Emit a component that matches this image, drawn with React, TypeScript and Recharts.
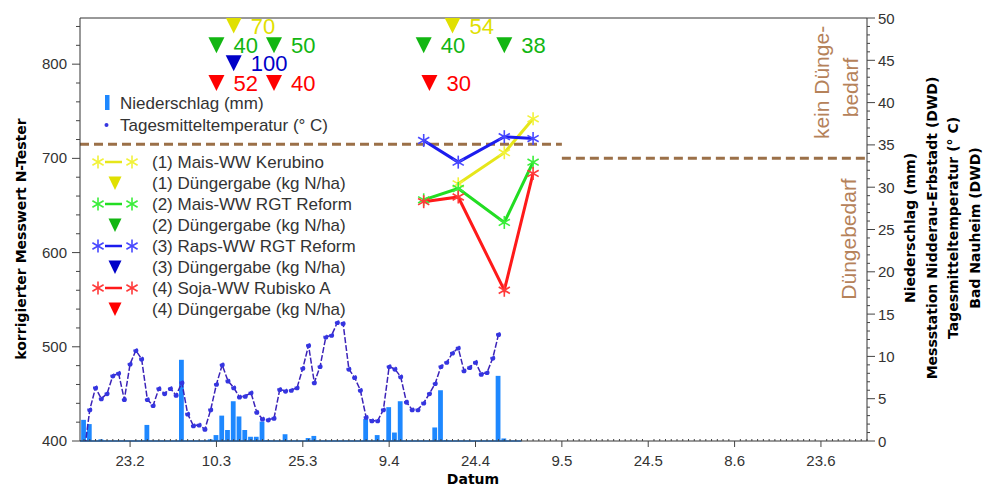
import React from "react"
import { ComposedChart, Bar, Line, Scatter, XAxis, YAxis, ReferenceLine } from "recharts"

// x axis = day of year (1 = 1.1.)
const X_MIN = 45.3
const X_MAX = 182
const X_TICK_DAYS = [54, 69, 84, 99, 114, 129, 144, 159, 174]
const X_TICK_LABELS = ["23.2", "10.3", "25.3", "9.4", "24.4", "9.5", "24.5", "8.6", "23.6"]

// daily weather, starting 15.2.
const WEATHER_FIRST_DAY = 46
const rainMm = [
  2.5, 2.0, 0, 0.2, 0, 0, 0, 0, 0, 0, 0, 1.9, 0, 0, 0, 0, 0, 9.6, 0, 0,
  0, 0, 0.2, 0.7, 3.0, 1.3, 4.7, 2.9, 1.3, 0.5, 0.5, 2.3, 0.1, 0, 0, 0.8, 0, 0, 0, 0.35,
  0.6, 0, 0, 0, 0, 0, 0, 0, 0, 2.6, 0, 0.7, 0, 4.0, 1.0, 4.7, 0, 0, 0, 0,
  0, 1.6, 6.0, 0.1, 0, 0, 0, 0, 0, 0, 0, 0, 7.7, 0.3, 0, 0,
]
const tempC = [
  -1.5, 3.7, 6.3, 5.0, 5.6, 7.7, 8.0, 4.9, 9.1, 10.7, 9.7, 4.9, 4.2, 6.2, 5.6, 6.2, 5.4, 6.9, 3.2, 1.8,
  1.9, 1.4, 3.7, 6.7, 9.0, 7.1, 6.3, 5.2, 5.3, 5.7, 3.4, 2.6, 2.5, 2.7, 6.1, 5.9, 6.0, 6.3, 8.6, 11.3,
  6.9, 8.8, 12.3, 12.5, 14.0, 13.9, 8.5, 7.5, 6.0, 2.8, 2.4, 2.4, 3.7, 8.8, 8.5, 7.6, 4.6, 3.7, 3.7, 4.5,
  5.6, 6.8, 8.8, 9.3, 10.4, 11.0, 8.3, 8.7, 9.3, 7.9, 8.1, 9.8, 12.6,
]

// N-Tester measurements
const NT_DAYS = [105, 111, 119, 124]
const ntKerubino = [null, 673, 706, 742]
const ntMaisReform = [656, 668, 632, 696]
const ntRapsReform = [719, 696, 723, 721]
const ntSojaRubisko = [654, 659, 560, 684]

// fertilizer applications (kg N/ha)
const dung1 = [{ day: 72, n: 70 }, { day: 110, n: 54 }]
const dung2 = [{ day: 69, n: 40 }, { day: 79, n: 50 }, { day: 105, n: 40 }, { day: 119, n: 38 }]
const dung3 = [{ day: 72, n: 100 }]
const dung4 = [{ day: 69, n: 52 }, { day: 79, n: 40 }, { day: 106, n: 30 }]

// threshold "Düngebedarf"
const thresholds = [
  { from: X_MIN, to: 129, value: 715 },
  { from: 129, to: X_MAX, value: 700 },
]

const SANS = "'Liberation Sans', Arial, sans-serif"
const BOLD = "'DejaVu Sans', Verdana, sans-serif"
const TXT = "#333"
const BROWN = "#9b7048"
const BROWN_TXT = "#b5825a"
const BAR = "#1e88ff"
const TEMP_LINE = "#3b22b8"
const TEMP_DOT = "#3535e0"

const C1 = { line: "#e6e61a", star: "#f2f23a", tri: "#e0e000" }
const C2 = { line: "#22dd22", star: "#3cee3c", tri: "#12b612" }
const C3 = { line: "#1c1cee", star: "#4848ff", tri: "#0000c8" }
const C4 = { line: "#ff1a1a", star: "#ff3a3a", tri: "#ff0000" }

const LEVELS = [841, 820, 801, 780]

const byDay = new Map<number, any>()
const rows: any[] = []
const row = (d: number) => {
  if (!byDay.has(d)) {
    const r = { day: d }
    byDay.set(d, r)
    rows.push(r)
  }
  return byDay.get(d)
}
rainMm.forEach((v, i) => { row(WEATHER_FIRST_DAY + i).rain = v })
tempC.forEach((v, i) => { row(WEATHER_FIRST_DAY + i).temp = v })
NT_DAYS.forEach((d, i) => {
  const r = row(d)
  r.s1 = ntKerubino[i]
  r.s2 = ntMaisReform[i]
  r.s3 = ntRapsReform[i]
  r.s4 = ntSojaRubisko[i]
})
rows.sort((a, b) => a.day - b.day)

const xTicks: number[] = []
for (let d = 46; d <= 182; d++) xTicks.push(d)
const leftTicks: number[] = []
for (let v = 400; v <= 840; v += 20) leftTicks.push(v)
const rightTicks: number[] = []
for (let v = 0; v <= 50; v++) rightTicks.push(v)

function Star({ x, y, color }: { x: number; y: number; color: string }) {
  return (
    <g stroke={color} strokeWidth={1.6}>
      <line x1={x} y1={y - 6.5} x2={x} y2={y + 6.5} />
      <line x1={x - 5.6} y1={y - 3.2} x2={x + 5.6} y2={y + 3.2} />
      <line x1={x - 5.6} y1={y + 3.2} x2={x + 5.6} y2={y - 3.2} />
    </g>
  )
}

const starDot = (color: string) => (p: any) => {
  if (p.cx == null || p.cy == null || p.value == null) return <g key={p.key} />
  return <Star key={p.key} x={p.cx} y={p.cy} color={color} />
}

const triShape = (color: string) => (p: any) => {
  const { cx, cy, payload } = p
  return (
    <g>
      <polygon points={`${cx - 8},${cy - 8} ${cx + 8},${cy - 8} ${cx},${cy + 8}`} fill={color} />
      <text x={cx + 17} y={cy + 8} fill={color} fontSize={22} fontFamily={SANS}>{payload.n}</text>
    </g>
  )
}

const XTick = (p: any) => {
  const { x, y, payload } = p
  const i = X_TICK_DAYS.indexOf(payload.value)
  if (i < 0) return <line x1={x} x2={x} y1={y} y2={y - 2} stroke="#444" />
  return (
    <g>
      <line x1={x} x2={x} y1={y} y2={y + 6} stroke="#444" />
      <text x={x} y={y + 25} textAnchor="middle" fill={TXT} fontSize={15} fontFamily={SANS}>{X_TICK_LABELS[i]}</text>
    </g>
  )
}

const LeftTick = (p: any) => {
  const { x, y, payload } = p
  const major = payload.value % 100 === 0
  return (
    <g>
      <line x1={x} x2={x - (major ? 8 : 4)} y1={y} y2={y} stroke="#444" />
      {major && <text x={x - 13} y={y + 5} textAnchor="end" fill={TXT} fontSize={15} fontFamily={SANS}>{payload.value}</text>}
    </g>
  )
}

const RightTick = (p: any) => {
  const { x, y, payload } = p
  const major = payload.value % 5 === 0
  return (
    <g>
      <line x1={x} x2={x + (major ? 8 : 3)} y1={y} y2={y} stroke="#444" />
      {major && <text x={x + 11} y={y + 5.5} fill={TXT} fontSize={15} fontFamily={SANS}>{payload.value}</text>}
    </g>
  )
}

const legendRows = [
  { label: "(1) Mais-WW Kerubino", c: C1, tri: false },
  { label: "(1) Düngergabe (kg N/ha)", c: C1, tri: true },
  { label: "(2) Mais-WW RGT Reform", c: C2, tri: false },
  { label: "(2) Düngergabe (kg N/ha)", c: C2, tri: true },
  { label: "(3) Raps-WW RGT Reform", c: C3, tri: false },
  { label: "(3) Düngergabe (kg N/ha)", c: C3, tri: true },
  { label: "(4) Soja-WW Rubisko A", c: C4, tri: false },
  { label: "(4) Düngergabe (kg N/ha)", c: C4, tri: true },
]

const rightTitles = [
  "Niederschlag (mm)",
  "Messstation Nidderau-Erbstadt (DWD)",
  "Tagesmitteltemperatur (° C)",
  "Bad Nauheim (DWD)",
]

function Overlay() {
  return (
    <svg width={995} height={487} style={{ position: "absolute", left: 0, top: 0, pointerEvents: "none" }}>
      {/* legend */}
      <rect x={105} y={95} width={4.5} height={15} fill={BAR} />
      <text x={120} y={109} fill={TXT} fontSize={17} fontFamily={SANS}>Niederschlag (mm)</text>
      <circle cx={106.5} cy={125} r={2} fill={TEMP_DOT} />
      <text x={120} y={131} fill={TXT} fontSize={17} fontFamily={SANS}>Tagesmitteltemperatur (° C)</text>
      {legendRows.map((r, i) => {
        const cy = 162 + i * 21
        return (
          <g key={r.label}>
            {r.tri ? (
              <polygon points={`${108.5},${cy - 6.5} ${121.5},${cy - 6.5} ${115},${cy + 7}`} fill={r.c.tri} />
            ) : (
              <g>
                <Star x={98} y={cy} color={r.c.star} />
                <line x1={105} x2={122} y1={cy} y2={cy} stroke={r.c.line} strokeWidth={2.5} />
                <Star x={132} y={cy} color={r.c.star} />
              </g>
            )}
            <text x={152} y={cy + 6} fill={TXT} fontSize={17} fontFamily={SANS}>{r.label}</text>
          </g>
        )
      })}

      {/* threshold annotations */}
      <g fill={BROWN_TXT} fontSize={21} fontFamily={SANS} textAnchor="middle" dominantBaseline="central">
        <text transform="translate(821,82.5) rotate(-90)">kein Dünge-</text>
        <text transform="translate(850,87.5) rotate(-90)">bedarf</text>
        <text transform="translate(848,239) rotate(-90)">Düngebedarf</text>
      </g>

      {/* axis titles */}
      <text transform="translate(21,239) rotate(-90)" textAnchor="middle" dominantBaseline="central"
        fontSize={14} fontWeight="bold" fontFamily={BOLD} fill="#000">korrigierter Messwert N-Tester</text>
      <text x={473} y={484} textAnchor="middle" fontSize={14} fontWeight="bold" fontFamily={BOLD} fill="#000">Datum</text>
      {rightTitles.map((t, i) => (
        <text key={t} transform={`translate(${910 + i * 21.5},228) rotate(-90)`} textAnchor="middle" dominantBaseline="central"
          fontSize={14} fontWeight="bold" fontFamily={BOLD} fill="#000">{t}</text>
      ))}
    </svg>
  )
}

export default function App() {
  return (
    <div style={{ position: "absolute", left: 0, top: 0, width: 995, height: 487, background: "#fff" }}>
      <ComposedChart width={995} height={487} data={rows} margin={{ top: 18, right: 0, bottom: 0, left: 0 }}>
        <XAxis
          dataKey="day"
          type="number"
          domain={[X_MIN, X_MAX]}
          allowDataOverflow
          ticks={xTicks}
          interval={0}
          height={46}
          tickSize={0}
          tickMargin={0}
          tickLine={false}
          tick={<XTick />}
          axisLine={{ stroke: "#333" }}
        />
        <YAxis
          yAxisId="left"
          type="number"
          domain={[400, 849]}
          allowDataOverflow
          ticks={leftTicks}
          interval={0}
          width={80}
          tickSize={0}
          tickMargin={0}
          tickLine={false}
          tick={<LeftTick />}
          axisLine={{ stroke: "#333" }}
        />
        <YAxis
          yAxisId="right"
          orientation="right"
          type="number"
          domain={[0, 50]}
          allowDataOverflow
          ticks={rightTicks}
          interval={0}
          width={128}
          tickSize={0}
          tickMargin={0}
          tickLine={false}
          tick={<RightTick />}
          axisLine={{ stroke: "#333" }}
        />

        <ReferenceLine yAxisId="left" y={849} stroke="#333" />
        {thresholds.map((t, i) => (
          <ReferenceLine key={i} yAxisId="left" segment={[{ x: t.from, y: t.value }, { x: t.to, y: t.value }]}
            stroke={BROWN} strokeWidth={3} strokeDasharray="9 5" />
        ))}

        <Bar yAxisId="right" dataKey="rain" fill={BAR} barSize={4.8} isAnimationActive={false} />
        <ReferenceLine yAxisId="right" segment={[{ x: X_MIN, y: 0 }, { x: 122, y: 0 }]} stroke={BAR} strokeWidth={1.5} />
        <Line yAxisId="right" dataKey="temp" stroke={TEMP_LINE} strokeWidth={1.5} strokeDasharray="6 2"
          dot={{ r: 1.8, fill: TEMP_DOT, stroke: TEMP_DOT }} isAnimationActive={false} />

        <Line yAxisId="left" dataKey="s1" connectNulls stroke={C1.line} strokeWidth={3} dot={starDot(C1.star)} isAnimationActive={false} />
        <Line yAxisId="left" dataKey="s2" connectNulls stroke={C2.line} strokeWidth={3} dot={starDot(C2.star)} isAnimationActive={false} />
        <Line yAxisId="left" dataKey="s3" connectNulls stroke={C3.line} strokeWidth={3} dot={starDot(C3.star)} isAnimationActive={false} />
        <Line yAxisId="left" dataKey="s4" connectNulls stroke={C4.line} strokeWidth={3} dot={starDot(C4.star)} isAnimationActive={false} />

        <Scatter yAxisId="left" data={dung1.map(d => ({ ...d, y: LEVELS[0] }))} dataKey="y" shape={triShape(C1.tri)} isAnimationActive={false} />
        <Scatter yAxisId="left" data={dung2.map(d => ({ ...d, y: LEVELS[1] }))} dataKey="y" shape={triShape(C2.tri)} isAnimationActive={false} />
        <Scatter yAxisId="left" data={dung3.map(d => ({ ...d, y: LEVELS[2] }))} dataKey="y" shape={triShape(C3.tri)} isAnimationActive={false} />
        <Scatter yAxisId="left" data={dung4.map(d => ({ ...d, y: LEVELS[3] }))} dataKey="y" shape={triShape(C4.tri)} isAnimationActive={false} />
      </ComposedChart>
      <Overlay />
    </div>
  )
}
